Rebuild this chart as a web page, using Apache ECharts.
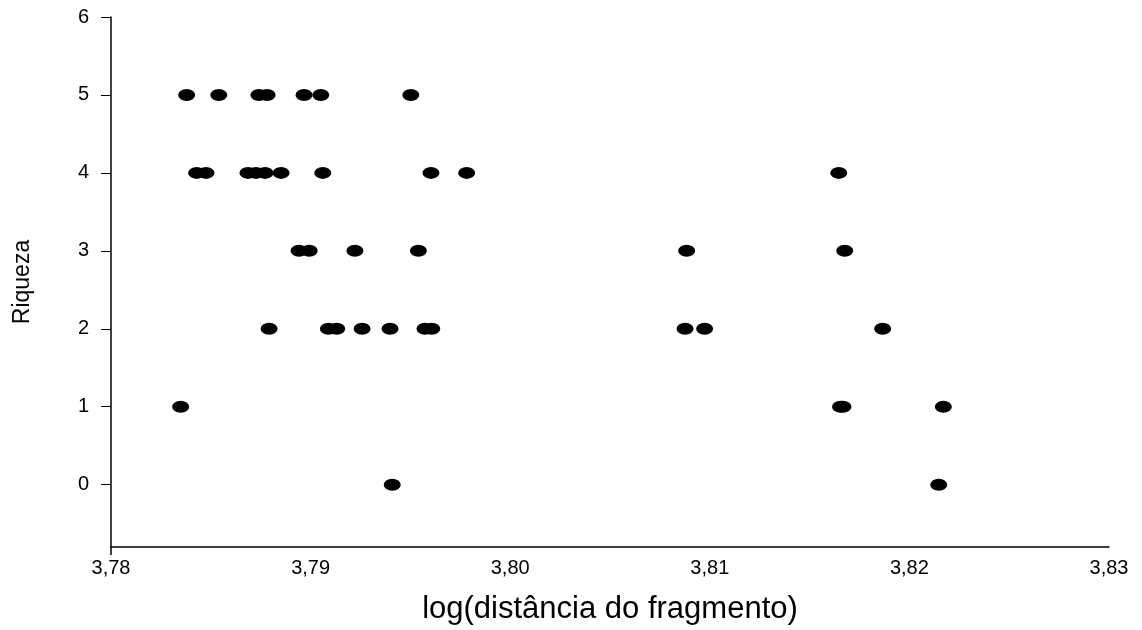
<!DOCTYPE html>
<html>
<head>
<meta charset="utf-8">
<script src="https://cdn.jsdelivr.net/npm/echarts@6/dist/echarts.min.js"></script>
<style>
  html, body { margin: 0; padding: 0; background: #fff; }
  #chart { width: 1142px; height: 630px; }
</style>
</head>
<body>
<div id="chart"></div>
<script>
// log(distância do fragmento) values grouped by richness (Riqueza)
const riqueza5 = [3.78379, 3.78540, 3.78741, 3.78782, 3.78967, 3.79051, 3.79502];
const riqueza4 = [3.78429, 3.78476, 3.78686, 3.78726, 3.78772, 3.78852, 3.79061, 3.79603, 3.79782, 3.81646];
const riqueza3 = [3.78942, 3.78993, 3.79222, 3.79540, 3.80884, 3.81676];
const riqueza2 = [3.78792, 3.79089, 3.79131, 3.79258, 3.79398, 3.79573, 3.79607, 3.80876, 3.80974, 3.81866];
const riqueza1 = [3.78349, 3.81655, 3.81667, 3.82170];
const riqueza0 = [3.79409, 3.82147];

const yTickValues = [0, 1, 2, 3, 4, 5, 6];
const xAxisTitle = 'log(distância do fragmento)';
const yAxisTitle = 'Riqueza';

const groups = [[0, riqueza0], [1, riqueza1], [2, riqueza2], [3, riqueza3], [4, riqueza4], [5, riqueza5]];
const points = [];
groups.forEach(([r, xs]) => xs.forEach(x => points.push([x, r])));

const font = '"Liberation Sans", Arial, sans-serif';
const chart = echarts.init(document.getElementById('chart'));
chart.setOption({
  animation: false,
  backgroundColor: '#fff',
  grid: { left: 111, right: 33, top: 17, bottom: 82 },
  xAxis: {
    type: 'value',
    min: 3.78, max: 3.83, interval: 0.01,
    name: xAxisTitle,
    nameLocation: 'middle',
    nameGap: 47,
    nameTextStyle: { fontFamily: font, fontSize: 31, color: '#000' },
    axisLine: { show: true, onZero: false, lineStyle: { color: '#000', width: 1.5 } },
    axisTick: { show: true, customValues: [3.78], length: 8, lineStyle: { color: '#000', width: 1.5 } },
    axisLabel: {
      fontFamily: font, fontSize: 20, color: '#000', margin: 11,
      formatter: v => v.toFixed(2).replace('.', ',')
    },
    splitLine: { show: false }
  },
  yAxis: {
    type: 'value',
    min: -0.8, max: 6,
    name: yAxisTitle,
    nameLocation: 'middle',
    nameGap: 77,
    nameTextStyle: { fontFamily: font, fontSize: 23, color: '#000' },
    axisLine: { show: true, onZero: false, lineStyle: { color: '#000', width: 1.5 } },
    axisTick: { show: true, customValues: yTickValues, length: 10, lineStyle: { color: '#000', width: 1 } },
    axisLabel: {
      fontFamily: font, fontSize: 20, color: '#000', margin: 22,
      customValues: yTickValues
    },
    splitLine: { show: false }
  },
  series: [{
    type: 'scatter',
    data: points,
    symbol: 'circle',
    symbolSize: [17, 12],
    itemStyle: { color: '#000', opacity: 1 }
  }]
});
</script>
</body>
</html>
